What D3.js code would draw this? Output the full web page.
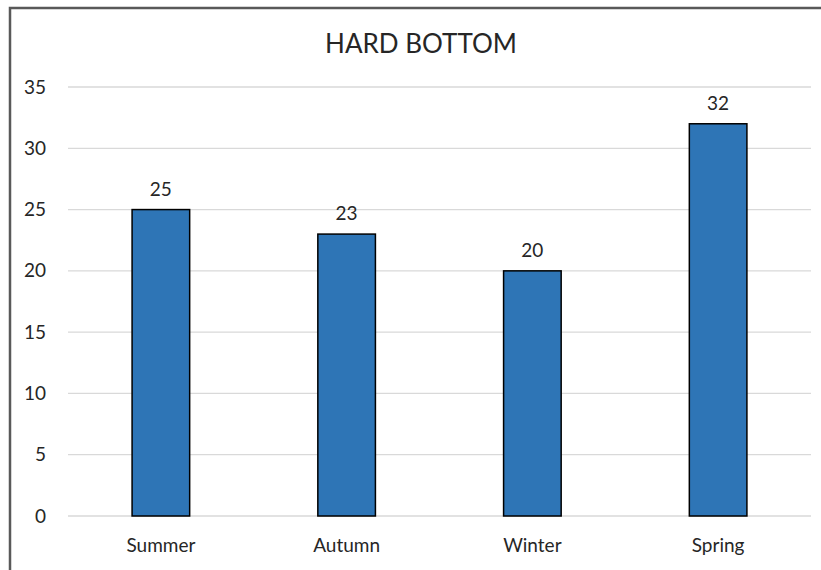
<!DOCTYPE html>
<html>
<head>
<meta charset="utf-8">
<script src="https://cdn.jsdelivr.net/npm/d3@7"></script>
<style>
  body { margin: 0; background: #fff; }
  svg { display: block; }
  text { font-family: Lato, "Open Sans", sans-serif; fill: #262626; }
</style>
</head>
<body>
<div id="chart"></div>
<script>
// chart data
const seasons = ["Summer", "Autumn", "Winter", "Spring"];
const counts = [25, 23, 20, 32];
const yTicks = [0, 5, 10, 15, 20, 25, 30, 35];
const chartTitle = "HARD BOTTOM";

const width = 821, height = 570;
const margin = {top: 87, right: 10, bottom: 54, left: 68};

const svg = d3.select("#chart").append("svg")
    .attr("width", width)
    .attr("height", height);

// outer frame
svg.append("rect")
    .attr("x", 10).attr("y", 8)
    .attr("width", width + 20).attr("height", height + 20)
    .attr("fill", "none")
    .attr("stroke", "#595959")
    .attr("stroke-width", 2.5);

const x = d3.scaleBand()
    .domain(seasons)
    .range([margin.left, width - margin.right])
    .paddingInner(0.69)
    .paddingOuter(0.345);

const y = d3.scaleLinear()
    .domain([0, 35])
    .range([516, margin.top]);

// gridlines
svg.append("g")
    .selectAll("line")
    .data(yTicks)
    .join("line")
    .attr("x1", margin.left)
    .attr("x2", width - margin.right)
    .attr("y1", d => y(d))
    .attr("y2", d => y(d))
    .attr("stroke", "#d9d9d9")
    .attr("stroke-width", 1.3);

// y axis labels
const yAxis = svg.append("g")
    .attr("transform", `translate(${margin.left - 22},0)`)
    .call(d3.axisLeft(y).tickValues(yTicks).tickSize(0).tickPadding(0));
yAxis.select(".domain").remove();
yAxis.selectAll("text")
    .style("font-family", "Lato, sans-serif")
    .style("font-size", "19px")
    .attr("fill", "#262626");

// x axis labels
const xAxis = svg.append("g")
    .attr("transform", `translate(0,${y(0)})`)
    .call(d3.axisBottom(x).tickSize(0).tickPadding(23));
xAxis.select(".domain").remove();
xAxis.selectAll("text")
    .style("font-family", "Lato, sans-serif")
    .style("font-size", "19px")
    .attr("fill", "#262626");

const data = seasons.map((s, i) => ({season: s, value: counts[i]}));

// bars
svg.append("g")
    .selectAll("rect")
    .data(data)
    .join("rect")
    .attr("x", d => x(d.season))
    .attr("y", d => y(d.value))
    .attr("width", x.bandwidth())
    .attr("height", d => y(0) - y(d.value))
    .attr("fill", "#2e75b6")
    .attr("stroke", "#000")
    .attr("stroke-width", 1.5);

// value labels
svg.append("g")
    .selectAll("text")
    .data(data)
    .join("text")
    .attr("x", d => x(d.season) + x.bandwidth() / 2)
    .attr("y", d => y(d.value) - 14)
    .attr("text-anchor", "middle")
    .style("font-size", "19px")
    .text(d => d.value);

// title
svg.append("text")
    .attr("x", 421)
    .attr("y", 53)
    .attr("text-anchor", "middle")
    .style("font-size", "26px")
    .text(chartTitle);
</script>
</body>
</html>
